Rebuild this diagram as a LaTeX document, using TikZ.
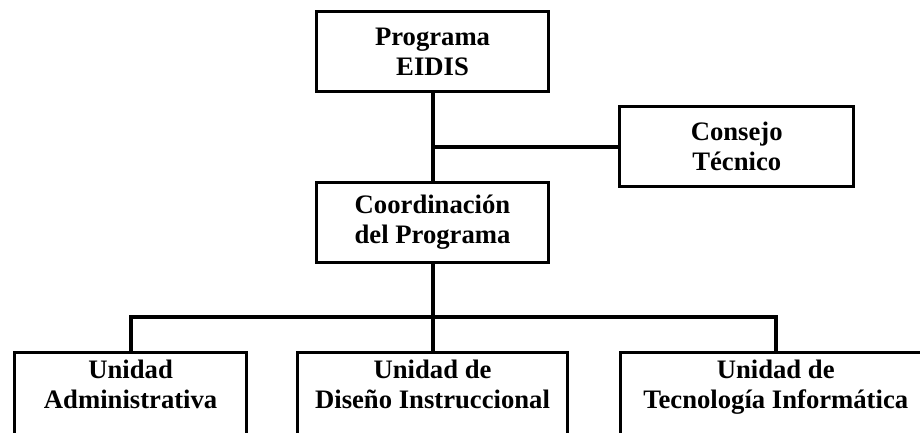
\documentclass[tikz,border=0pt]{standalone}
\usepackage{fontspec}
\setmainfont{Liberation Serif}
\usetikzlibrary{positioning}

\begin{document}
\begin{tikzpicture}[
        unit/.style={draw, line width=2.4pt, align=center,
          font=\fontsize{20}{22.5}\selectfont\bfseries,
          minimum width=174pt, minimum height=60pt, inner sep=2pt},
        lowunit/.style={unit, anchor=north, text depth=60pt, inner ysep=5.5pt},
        link/.style={line width=3pt},
        node distance=66pt and 36pt
        ]

        % frame of the page (the lower boxes run off the bottom)
        \useasboundingbox (-324.4pt,38.6pt) rectangle (365.6pt,-286.1pt);
        \clip (-324.4pt,38.6pt) rectangle (365.6pt,-286.1pt);

        \node[unit] (programa) {Programa\\EIDIS};

        \node[unit] (coord) [below=of programa] {Coordinación\\del Programa};

        \node[unit, minimum width=175.5pt] (consejo) [below right=9pt and 51pt of programa] {Consejo\\Técnico};

        \node[lowunit, minimum width=202pt] (diseno) [below=65pt of coord] {Unidad de\\Diseño Instruccional};

        \node[lowunit, minimum width=174pt] (admin) [left=36pt of diseno] {Unidad\\Administrativa};

        \node[lowunit, minimum width=233pt] (tecno) [right=37.5pt of diseno] {Unidad de\\Tecnología Informática};


        % Edges
        \draw[link] (programa) -- (coord);
        \draw[link] (consejo.west) -- (consejo.west -| programa.south);

        \draw[link] (coord) -- (diseno);
        \draw[link] (admin.north) -- ++(0,25.5pt) -| (tecno.north);

      \end{tikzpicture}
\end{document}
